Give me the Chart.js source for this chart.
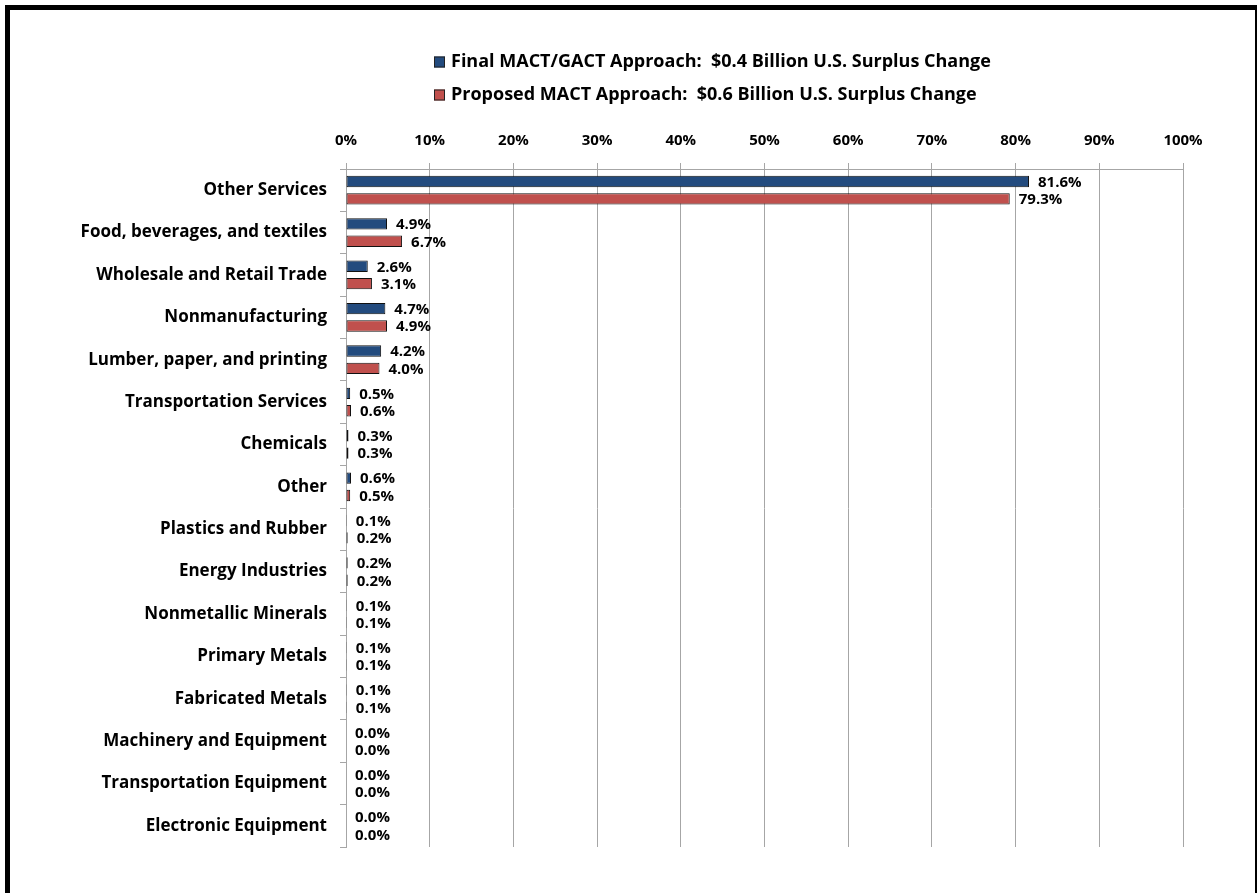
<!DOCTYPE html>
<html>
<head>
<meta charset="utf-8">
<title>U.S. Surplus Change by Industry</title>
<script src="https://cdn.jsdelivr.net/npm/chart.js@4.4.1/dist/chart.umd.min.js"></script>
<style>
  html, body { margin: 0; padding: 0; background: #fff; }
  canvas { display: block; }
</style>
</head>
<body>
<canvas id="surplusChart" width="1257" height="893"></canvas>
<script>
// 産業カテゴリ
const categories = [
    'Other Services',
    'Food, beverages, and textiles',
    'Wholesale and Retail Trade',
    'Nonmanufacturing',
    'Lumber, paper, and printing',
    'Transportation Services',
    'Chemicals',
    'Other',
    'Plastics and Rubber',
    'Energy Industries',
    'Nonmetallic Minerals',
    'Primary Metals',
    'Fabricated Metals',
    'Machinery and Equipment',
    'Transportation Equipment',
    'Electronic Equipment'
];

// 系列名
const seriesNames = [
    'Final MACT/GACT Approach:  $0.4 Billion U.S. Surplus Change',
    'Proposed MACT Approach:  $0.6 Billion U.S. Surplus Change'
];

// シェア (%)
const finalShare = [81.6, 4.9, 2.6, 4.7, 4.2, 0.5, 0.3, 0.6, 0.1, 0.2, 0.1, 0.1, 0.1, 0.0, 0.0, 0.0];
const proposedShare = [79.3, 6.7, 3.1, 4.9, 4.0, 0.6, 0.3, 0.5, 0.2, 0.2, 0.1, 0.1, 0.1, 0.0, 0.0, 0.0];

// 目盛り
const tickValues = [0, 10, 20, 30, 40, 50, 60, 70, 80, 90, 100];

const FONT = '"Open Sans", Lato, sans-serif';
const GRID = '#a6a6a6';

// 外枠
const framePlugin = {
    id: 'frame',
    beforeDraw(chart) {
        const ctx = chart.ctx;
        ctx.save();
        ctx.fillStyle = '#fff';
        ctx.fillRect(0, 0, chart.width, chart.height);
        ctx.strokeStyle = '#000';
        ctx.lineWidth = 5;
        ctx.strokeRect(7.5, 7.5, 1250, 1000);
        ctx.restore();
    }
};

// 凡例 (2行, 左揃え)
const legendPlugin = {
    id: 'stackedLegend',
    afterDraw(chart) {
        const ctx = chart.ctx;
        const rows = [62, 95];
        ctx.save();
        ctx.font = 'bold 18px ' + FONT;
        ctx.textBaseline = 'middle';
        ctx.textAlign = 'left';
        chart.data.datasets.forEach((ds, i) => {
            const y = rows[i];
            ctx.fillStyle = ds.backgroundColor;
            ctx.fillRect(434, y - 5.5, 11, 11);
            ctx.strokeStyle = '#222';
            ctx.lineWidth = 1;
            ctx.strokeRect(434.5, y - 5, 10, 10);
            ctx.fillStyle = '#000';
            ctx.fillText(ds.label, 451, y);
        });
        ctx.restore();
    }
};

// 値ラベル
const valueLabelPlugin = {
    id: 'valueLabels',
    afterDatasetsDraw(chart) {
        const ctx = chart.ctx;
        ctx.save();
        ctx.font = 'bold 15px ' + FONT;
        ctx.fillStyle = '#000';
        ctx.textAlign = 'left';
        ctx.textBaseline = 'middle';
        chart.data.datasets.forEach((ds, i) => {
            const meta = chart.getDatasetMeta(i);
            meta.data.forEach((bar, j) => {
                ctx.fillText(ds.data[j].toFixed(1) + '%', bar.x + 9, bar.y + 1);
            });
        });
        ctx.restore();
    }
};

const ctx = document.getElementById('surplusChart').getContext('2d');
const surplusChart = new Chart(ctx, {
    type: 'bar',
    data: {
        labels: categories,
        datasets: [
            {
                label: seriesNames[0],
                data: finalShare,
                backgroundColor: '#234b7e',
                borderColor: '#111',
                borderWidth: 1,
                borderSkipped: false,
                categoryPercentage: 0.82,
                barPercentage: 0.66
            },
            {
                label: seriesNames[1],
                data: proposedShare,
                backgroundColor: '#c0504d',
                borderColor: '#111',
                borderWidth: 1,
                borderSkipped: false,
                categoryPercentage: 0.82,
                barPercentage: 0.66
            }
        ]
    },
    options: {
        indexAxis: 'y',
        responsive: false,
        animation: false,
        layout: {
            padding: { left: 10, right: 74, top: 109, bottom: 46 }
        },
        scales: {
            x: {
                position: 'top',
                min: 0,
                max: 100,
                afterFit: (scale) => { scale.height = 60; },
                afterBuildTicks: (scale) => {
                    scale.ticks = tickValues.map(v => ({ value: v }));
                },
                ticks: {
                    color: '#000',
                    padding: 13,
                    font: { family: FONT, size: 15, weight: 'bold' },
                    callback: (v) => v + '%'
                },
                grid: { color: GRID, lineWidth: 1, tickLength: 6 },
                border: { color: GRID, width: 1 }
            },
            y: {
                afterFit: (scale) => { scale.width = 336; },
                ticks: {
                    color: '#000',
                    padding: 13,
                    font: { family: FONT, size: 17, weight: 'bold' }
                },
                grid: { offset: true, drawOnChartArea: false, color: GRID, tickLength: 6 },
                border: { color: GRID, width: 1 }
            }
        },
        plugins: {
            legend: { display: false },
            tooltip: { enabled: false }
        }
    },
    plugins: [framePlugin, legendPlugin, valueLabelPlugin]
});
</script>
</body>
</html>
